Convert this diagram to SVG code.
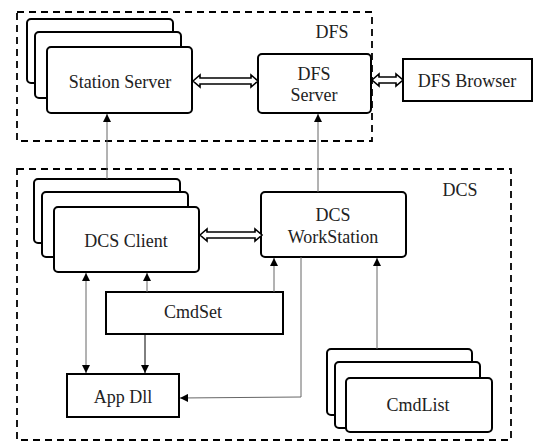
<svg xmlns="http://www.w3.org/2000/svg" width="533" height="442" viewBox="0 0 533 442">
<style>
.card{fill:#fff;stroke:#000;stroke-width:2}
.box{fill:#fff;stroke:#000;stroke-width:2}
.group{fill:none;stroke:#000;stroke-width:1.8;stroke-dasharray:7,5}
.t{font-family:'Liberation Serif','Times New Roman',Tinos,'DejaVu Serif',serif;font-size:18px;fill:#222;text-anchor:middle}
.c{fill:none;stroke:#666;stroke-width:1}
.dbl{fill:#fff;stroke:#000;stroke-width:1.6;stroke-linejoin:miter}
</style>
<defs>
<marker id="ah" viewBox="0 0 10 10" refX="10" refY="5" markerWidth="9" markerHeight="8" markerUnits="userSpaceOnUse" orient="auto-start-reverse">
<path d="M0,0 L10,5 L0,10 z" fill="#000"/>
</marker>
</defs>
<g id="dfs-group"><rect class="group" x="17" y="12" width="355" height="129"/><text class="t" x="332" y="38">DFS</text></g>
<g id="dcs-group"><rect class="group" x="17" y="169" width="494" height="271"/><text class="t" x="460" y="196">DCS</text></g>
<g id="station-server">
<rect class="card" x="27" y="19" width="146" height="64" rx="4"/>
<rect class="card" x="35" y="32" width="146" height="66" rx="4"/>
<rect class="card" x="47" y="47" width="145" height="66" rx="4"/>
<text class="t" x="120" y="88">Station Server</text>
</g>
<g id="dfs-server">
<rect class="card" x="258" y="54" width="113" height="59" rx="4"/>
<text class="t" x="314" y="80">DFS</text>
<text class="t" x="314" y="101">Server</text>
</g>
<g id="dfs-browser">
<rect class="box" x="403" y="59" width="129" height="42"/>
<text class="t" x="467" y="87">DFS Browser</text>
</g>
<g id="dcs-client">
<rect class="card" x="34" y="179" width="146" height="64" rx="4"/>
<rect class="card" x="42" y="192" width="146" height="65" rx="4"/>
<rect class="card" x="54" y="207" width="145" height="65" rx="4"/>
<text class="t" x="126" y="247">DCS Client</text>
</g>
<g id="dcs-workstation">
<rect class="card" x="261" y="192" width="145" height="65" rx="4"/>
<text class="t" x="333" y="221">DCS</text>
<text class="t" x="333" y="243">WorkStation</text>
</g>
<g id="cmdset">
<rect class="box" x="106" y="292" width="177" height="42"/>
<text class="t" x="193" y="318">CmdSet</text>
</g>
<g id="app-dll">
<rect class="box" x="67" y="374" width="112" height="43"/>
<text class="t" x="123" y="403">App Dll</text>
</g>
<g id="cmdlist">
<rect class="card" x="327" y="349" width="145" height="66" rx="4"/>
<rect class="card" x="335" y="362" width="145" height="66" rx="4"/>
<rect class="card" x="346" y="378" width="146" height="54" rx="4"/>
<text class="t" x="418" y="411">CmdList</text>
</g>
<g id="connectors">
<path class="dbl" d="M193,81 L200,75 L200,78 L251,78 L251,75 L258,81 L251,87 L251,84 L200,84 L200,87 Z"/>
<path class="dbl" d="M372,80 L379,74 L379,77 L396,77 L396,74 L403,80 L396,86 L396,83 L379,83 L379,86 Z"/>
<path class="dbl" d="M200,235 L207,229 L207,232 L255,232 L255,229 L262,235 L255,241 L255,238 L207,238 L207,241 Z"/>
<line class="c" x1="107" y1="179" x2="107" y2="114" marker-end="url(#ah)"/>
<line class="c" x1="318" y1="192" x2="318" y2="114" marker-end="url(#ah)"/>
<line class="c" x1="86" y1="273" x2="86" y2="373" marker-start="url(#ah)" marker-end="url(#ah)"/>
<line class="c" x1="147" y1="292" x2="147" y2="273" marker-end="url(#ah)"/>
<line class="c" x1="145" y1="334" x2="145" y2="373" marker-end="url(#ah)" style="stroke:#000"/>
<line class="c" x1="274" y1="292" x2="274" y2="258" marker-end="url(#ah)"/>
<polyline class="c" points="301,257 301,397 180,398" marker-end="url(#ah)"/>
<line class="c" x1="377" y1="349" x2="377" y2="258" marker-end="url(#ah)"/>
</g>
</svg>
